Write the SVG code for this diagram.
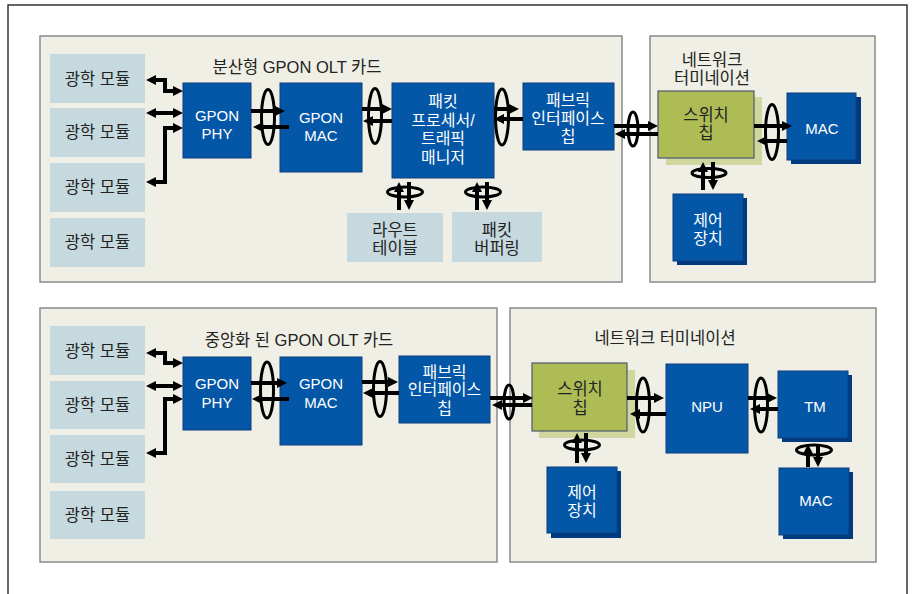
<svg xmlns="http://www.w3.org/2000/svg" width="914" height="594" viewBox="0 0 914 594">
<style>
.panel{fill:#efefe5;stroke:#8a8a8a;stroke-width:1.5}
.mod{fill:#c6d9df}
.blue{fill:#0457a7;stroke:#0c3d7a;stroke-width:1}
.shadow{fill:#003a80}
.sw{fill:#aebc55;stroke:#4b5a6b;stroke-width:1.2}
.swsh{fill:#cfd79e}
text{font-family:"Liberation Sans","Noto Sans CJK KR",sans-serif;text-anchor:middle;dominant-baseline:central}
.dk{fill:#222;font-size:16.5px}
.wt{fill:#fff;font-size:16px}
.wl{fill:#fff;font-size:15px}
.arr{fill:none;stroke:#000;stroke-width:4;marker-end:url(#ah)}
.bi{marker-start:url(#ah)}
.ring{fill:none;stroke:#000;stroke-width:3}
</style>
<defs>
<marker id="ah" viewBox="0 0 10 10" refX="0" refY="5" markerWidth="10" markerHeight="11" markerUnits="userSpaceOnUse" orient="auto-start-reverse"><path d="M0,0L10,5L0,10z" fill="#000"/></marker>
</defs>
<rect width="914" height="594" fill="#fff"/>
<path d="M8,594V5H907V594" fill="none" stroke="#333" stroke-width="1.5"/>

<g id="panel-top-olt"><rect class="panel" x="40" y="36" width="582" height="246"/><text class="dk" x="297" y="67">분산형 GPON OLT 카드</text></g>
<g id="panel-top-nt"><rect class="panel" x="650" y="36" width="225" height="246"/><text class="dk" x="712" y="60">네트워크</text><text class="dk" x="712" y="78">터미네이션</text></g>
<g id="panel-bot-olt"><rect class="panel" x="40" y="308" width="457" height="254"/><text class="dk" x="299" y="340">중앙화 된 GPON OLT 카드</text></g>
<g id="panel-bot-nt"><rect class="panel" x="510" y="308" width="366" height="254"/><text class="dk" x="665" y="338">네트워크 터미네이션</text></g>

<g id="t-mod1"><rect class="mod" x="50" y="54" width="95" height="49"/><text class="dk" x="97.5" y="79">광학 모듈</text></g>
<g id="t-mod2"><rect class="mod" x="50" y="108" width="95" height="49"/><text class="dk" x="97.5" y="132">광학 모듈</text></g>
<g id="t-mod3"><rect class="mod" x="50" y="163" width="95" height="49"/><text class="dk" x="97.5" y="187">광학 모듈</text></g>
<g id="t-mod4"><rect class="mod" x="50" y="218" width="95" height="49"/><text class="dk" x="97.5" y="242">광학 모듈</text></g>
<g id="t-phy"><rect class="blue" x="183" y="83" width="68" height="75"/><text class="wl" x="217" y="115">GPON</text><text class="wl" x="217" y="133">PHY</text></g>
<g id="t-mac"><rect class="blue" x="280" y="83" width="82" height="89"/><text class="wl" x="321" y="117">GPON</text><text class="wl" x="321" y="135">MAC</text></g>
<g id="t-pp"><rect class="blue" x="392" y="83" width="102" height="95"/><text class="wt" x="443" y="101.5">패킷</text><text class="wt" x="443" y="120">프로세서/</text><text class="wt" x="443" y="138.5">트래픽</text><text class="wt" x="443" y="157">매니저</text></g>
<g id="t-fab"><rect class="blue" x="523" y="83" width="91" height="67"/><text class="wt" x="568" y="100">패브릭</text><text class="wt" x="568" y="118">인터페이스</text><text class="wt" x="568" y="136.5">칩</text></g>
<g id="t-route"><rect class="mod" x="347" y="213" width="96" height="49"/><text class="dk" x="395" y="230">라우트</text><text class="dk" x="395" y="248">테이블</text></g>
<g id="t-buf"><rect class="mod" x="452" y="212" width="90" height="50"/><text class="dk" x="497" y="230">패킷</text><text class="dk" x="497" y="248">버퍼링</text></g>
<g id="t-switch"><rect class="swsh" x="666" y="97" width="96" height="68"/><rect class="sw" x="658" y="91" width="96" height="67"/><text class="dk" x="706" y="115">스위치</text><text class="dk" x="706" y="133">칩</text></g>
<g id="t-macr"><rect class="shadow" x="791" y="97" width="70" height="67"/><rect class="blue" x="787" y="93" width="69" height="67"/><text class="wl" x="822" y="128">MAC</text></g>
<g id="t-ctrl"><rect class="shadow" x="677" y="198" width="70" height="67"/><rect class="blue" x="673" y="194" width="70" height="67"/><text class="wt" x="708" y="220">제어</text><text class="wt" x="708" y="238">장치</text></g>

<g id="b-mod1"><rect class="mod" x="50" y="326" width="95" height="49"/><text class="dk" x="97.5" y="351">광학 모듈</text></g>
<g id="b-mod2"><rect class="mod" x="50" y="381" width="95" height="48"/><text class="dk" x="97.5" y="405">광학 모듈</text></g>
<g id="b-mod3"><rect class="mod" x="50" y="435" width="95" height="48"/><text class="dk" x="97.5" y="459">광학 모듈</text></g>
<g id="b-mod4"><rect class="mod" x="50" y="491" width="95" height="48"/><text class="dk" x="97.5" y="515">광학 모듈</text></g>
<g id="b-phy"><rect class="blue" x="183" y="357" width="68" height="73"/><text class="wl" x="217" y="383">GPON</text><text class="wl" x="217" y="402">PHY</text></g>
<g id="b-mac"><rect class="blue" x="280" y="357" width="82" height="88"/><text class="wl" x="321" y="383">GPON</text><text class="wl" x="321" y="402">MAC</text></g>
<g id="b-fab"><rect class="blue" x="399" y="356" width="91" height="67"/><text class="wt" x="444.5" y="372">패브릭</text><text class="wt" x="444.5" y="389.5">인터페이스</text><text class="wt" x="444.5" y="408">칩</text></g>
<g id="b-switch"><rect class="swsh" x="539" y="370" width="96" height="68"/><rect class="sw" x="532" y="363" width="95" height="68"/><text class="dk" x="580" y="389">스위치</text><text class="dk" x="580" y="408">칩</text></g>
<g id="b-ctrl"><rect class="shadow" x="551" y="471" width="70" height="67"/><rect class="blue" x="547" y="467" width="70" height="66"/><text class="wt" x="582" y="492">제어</text><text class="wt" x="582" y="510">장치</text></g>
<g id="b-npu"><rect class="blue" x="666" y="364" width="82" height="89"/><text class="wl" x="707" y="406">NPU</text></g>
<g id="b-tm"><rect class="shadow" x="782" y="375" width="70" height="67"/><rect class="blue" x="778" y="371" width="70" height="67"/><text class="wl" x="815" y="406">TM</text></g>
<g id="b-mac2"><rect class="shadow" x="783" y="472" width="70" height="67"/><rect class="blue" x="779" y="468" width="70" height="67"/><text class="wl" x="816" y="500">MAC</text></g>

<g id="connectors">
<path class="arr bi" d="M156,80H165V91H173"/>
<path class="arr bi" d="M156,113H173"/>
<path class="arr bi" d="M156,182H165V128H173"/>
<path class="arr" d="M251,111H275"/><path class="arr" d="M289,127H263"/><ellipse class="ring" cx="268" cy="117" rx="6.5" ry="27.5"/>
<path class="arr" d="M362,109H382"/><path class="arr" d="M392,121H373"/><ellipse class="ring" cx="375" cy="116" rx="6.5" ry="27.5"/>
<path class="arr" d="M494,109H509"/><path class="arr" d="M523,119H504"/><ellipse class="ring" cx="502" cy="117" rx="6.5" ry="28"/>
<path class="arr" d="M614,126H648"/><path class="arr" d="M658,134H625"/><ellipse class="ring" cx="633" cy="129" rx="5" ry="17"/>
<path class="arr" d="M754,126H782"/><path class="arr" d="M787,141H767"/><ellipse class="ring" cx="772" cy="132" rx="6.5" ry="27.5"/>
<path class="arr" d="M703,190V172"/><path class="arr" d="M713,162V180"/><ellipse class="ring" cx="709" cy="173" rx="17" ry="4.5"/>
<path class="arr" d="M399,210V192"/><path class="arr" d="M409,182V200"/><ellipse class="ring" cx="405" cy="192" rx="17.5" ry="5"/>
<path class="arr" d="M477,210V192"/><path class="arr" d="M487,182V200"/><ellipse class="ring" cx="483" cy="192" rx="17.5" ry="5"/>

<path class="arr bi" d="M156,353H165V363H173"/>
<path class="arr bi" d="M156,386H173"/>
<path class="arr bi" d="M156,453H165V399H173"/>
<path class="arr" d="M251,383H277"/><path class="arr" d="M289,399H262"/><ellipse class="ring" cx="267" cy="390" rx="6.5" ry="28"/>
<path class="arr" d="M362,382H388"/><path class="arr" d="M399,393H373"/><ellipse class="ring" cx="380" cy="389" rx="6.5" ry="27.5"/>
<path class="arr" d="M490,398H523"/><path class="arr" d="M532,405H502"/><ellipse class="ring" cx="509" cy="402" rx="5" ry="17"/>
<path class="arr" d="M627,398H654"/><path class="arr" d="M666,414H640"/><ellipse class="ring" cx="643" cy="405" rx="6.5" ry="27"/>
<path class="arr" d="M748,398H767"/><path class="arr" d="M778,409H760"/><ellipse class="ring" cx="761" cy="405" rx="6.5" ry="27"/>
<path class="arr" d="M808,467V454"/><path class="arr" d="M818,444V457"/><ellipse class="ring" cx="814" cy="450" rx="17.5" ry="5"/>
<path class="arr" d="M577,463V443"/><path class="arr" d="M586,433V453"/><ellipse class="ring" cx="582" cy="445" rx="17.5" ry="5"/>
</g>
</svg>
